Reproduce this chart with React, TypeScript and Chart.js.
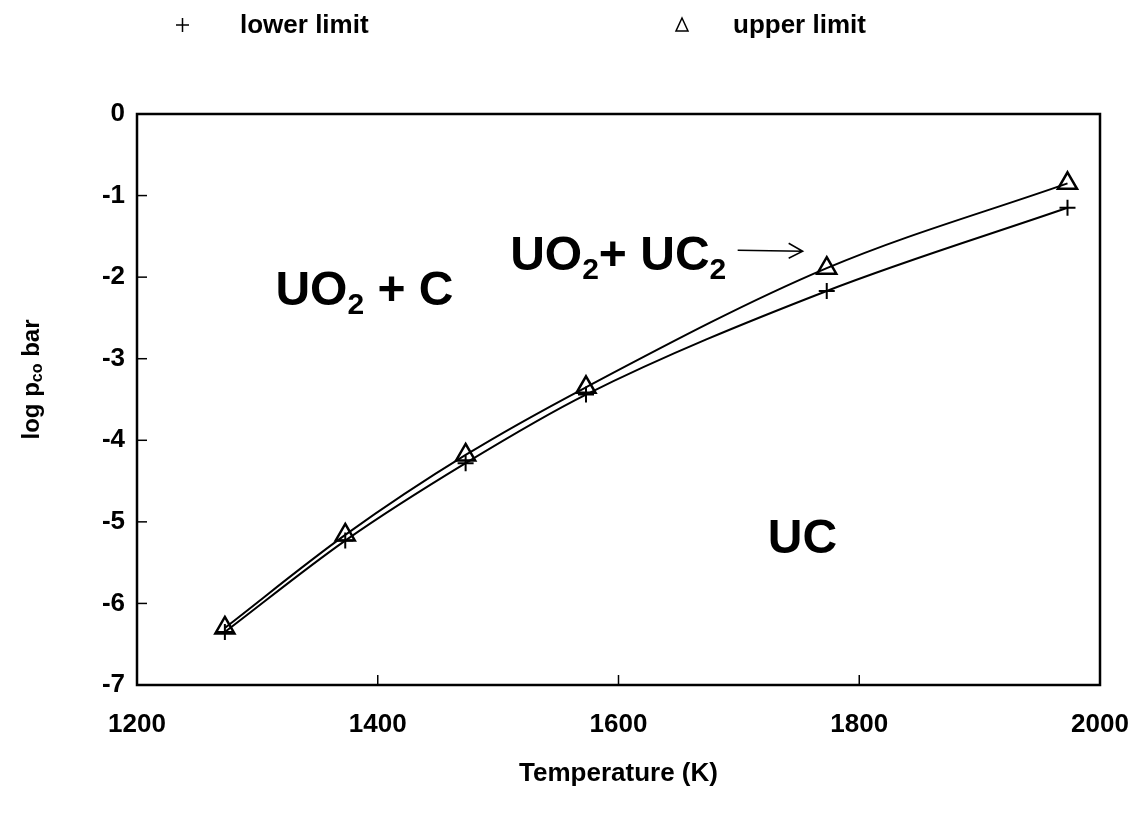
import React, { useEffect, useRef } from "react";
import { Chart, registerables } from "chart.js";

Chart.register(...registerables);

const temperatures = [1273, 1373, 1473, 1573, 1773, 1973];
const lowerLimit = [-6.35, -5.23, -4.28, -3.44, -2.17, -1.15];
const upperLimit = [-6.3, -5.16, -4.18, -3.35, -1.89, -0.85];
const xTicks = [1200, 1400, 1600, 1800, 2000];
const yTicks = [0, -1, -2, -3, -4, -5, -6, -7];

const FONT = "'Liberation Sans', Arial, Helvetica, sans-serif";

const overlayPlugin = {
  id: "overlay",
  afterDraw(chart: any) {
    const ctx = chart.ctx as CanvasRenderingContext2D;
    const { left, right, top, bottom } = chart.chartArea;
    const xs = chart.scales.x;
    const ys = chart.scales.y;
    ctx.save();
    ctx.strokeStyle = "#000";
    ctx.fillStyle = "#000";
    // frame
    ctx.lineWidth = 2.5;
    ctx.strokeRect(left, top, right - left, bottom - top);
    // inward ticks
    ctx.lineWidth = 1.5;
    yTicks.forEach((v) => {
      const y = ys.getPixelForValue(v);
      ctx.beginPath();
      ctx.moveTo(left, y);
      ctx.lineTo(left + 10, y);
      ctx.stroke();
    });
    xTicks.forEach((v) => {
      const x = xs.getPixelForValue(v);
      ctx.beginPath();
      ctx.moveTo(x, bottom);
      ctx.lineTo(x, bottom - 10);
      ctx.stroke();
    });

    // region labels with subscripts
    const drawRich = (parts: [string, boolean][], x: number, y: number, size: number) => {
      let cx = x;
      parts.forEach(([t, sub]) => {
        const s = sub ? Math.round(size * 0.62) : size;
        ctx.font = `bold ${s}px ${FONT}`;
        ctx.textAlign = "left";
        ctx.textBaseline = "alphabetic";
        ctx.fillText(t, cx, sub ? y + size * 0.2 : y);
        cx += ctx.measureText(t).width;
      });
    };
    drawRich([["UO", false], ["2", true], [" + C", false]], xs.getPixelForValue(1315), ys.getPixelForValue(-2.34), 48);
    drawRich([["UO", false], ["2", true], ["+ UC", false], ["2", true]], xs.getPixelForValue(1510), ys.getPixelForValue(-1.91), 48);
    drawRich([["UC", false]], xs.getPixelForValue(1724), ys.getPixelForValue(-5.38), 48);

    // arrow
    const ax0 = xs.getPixelForValue(1699);
    const ax1 = xs.getPixelForValue(1753);
    const ay = ys.getPixelForValue(-1.67);
    ctx.lineWidth = 1.5;
    ctx.beginPath();
    ctx.moveTo(ax0, ay);
    ctx.lineTo(ax1, ay + 1);
    ctx.moveTo(ax1 - 14, ay - 7);
    ctx.lineTo(ax1, ay + 1);
    ctx.lineTo(ax1 - 14, ay + 8);
    ctx.stroke();

    // legend
    ctx.lineWidth = 1.5;
    ctx.beginPath();
    ctx.moveTo(176, 25);
    ctx.lineTo(189, 25);
    ctx.moveTo(182.5, 18);
    ctx.lineTo(182.5, 32);
    ctx.stroke();
    ctx.beginPath();
    ctx.moveTo(682, 18);
    ctx.lineTo(688, 31);
    ctx.lineTo(676, 31);
    ctx.closePath();
    ctx.stroke();
    ctx.font = `bold 26px ${FONT}`;
    ctx.textAlign = "left";
    ctx.textBaseline = "middle";
    ctx.fillText("lower limit", 240, 26);
    ctx.fillText("upper limit", 733, 26);

    // x title
    ctx.textAlign = "center";
    ctx.fillText("Temperature (K)", (left + right) / 2, 774);

    // y title with subscript, rotated
    ctx.save();
    ctx.translate(32, (top + bottom) / 2 - 20);
    ctx.rotate(-Math.PI / 2);
    const p1 = "log p";
    const p2 = "co";
    const p3 = " bar";
    ctx.font = `bold 24px ${FONT}`;
    const w1 = ctx.measureText(p1).width;
    const w3 = ctx.measureText(p3).width;
    ctx.font = `bold 16px ${FONT}`;
    const w2 = ctx.measureText(p2).width;
    let cx = -(w1 + w2 + w3) / 2;
    ctx.textAlign = "left";
    ctx.textBaseline = "middle";
    ctx.font = `bold 24px ${FONT}`;
    ctx.fillText(p1, cx, 0);
    cx += w1;
    ctx.font = `bold 16px ${FONT}`;
    ctx.fillText(p2, cx, 6);
    cx += w2;
    ctx.font = `bold 24px ${FONT}`;
    ctx.fillText(p3, cx, 0);
    ctx.restore();

    ctx.restore();
  },
};

export default function App() {
  const ref = useRef<HTMLCanvasElement | null>(null);
  useEffect(() => {
    if (!ref.current) return;
    const chart = new Chart(ref.current, {
      type: "line",
      data: {
        datasets: [
          {
            label: "lower limit",
            data: temperatures.map((t, i) => ({ x: t, y: lowerLimit[i] })),
            borderColor: "#000",
            borderWidth: 2,
            pointStyle: "cross",
            pointRadius: 8,
            pointBorderWidth: 2,
            pointBorderColor: "#000",
            cubicInterpolationMode: "monotone",
            fill: false,
          },
          {
            label: "upper limit",
            data: temperatures.map((t, i) => ({ x: t, y: upperLimit[i] })),
            borderColor: "#000",
            borderWidth: 2,
            pointStyle: "triangle",
            pointRadius: 11,
            pointBorderWidth: 2.5,
            pointBorderColor: "#000",
            pointBackgroundColor: "rgba(255,255,255,0)",
            cubicInterpolationMode: "monotone",
            fill: false,
          },
        ],
      },
      options: {
        animation: false,
        responsive: false,
        layout: { padding: { top: 114, right: 34, left: 0, bottom: 0 } },
        plugins: { legend: { display: false }, tooltip: { enabled: false } },
        scales: {
          x: {
            type: "linear",
            min: 1200,
            max: 2000,
            afterBuildTicks: (s: any) => {
              s.ticks = xTicks.map((v) => ({ value: v }));
            },
            afterFit: (s: any) => {
              s.height = 131;
              s.paddingLeft = 0;
              s.paddingRight = 0;
            },
            grid: { display: false, drawTicks: false },
            border: { display: false },
            ticks: {
              padding: 24,
              color: "#000",
              font: { family: FONT, size: 26, weight: "bold" },
              maxRotation: 0,
              callback: (v: any) => String(v),
            },
          },
          y: {
            type: "linear",
            min: -7,
            max: 0,
            afterBuildTicks: (s: any) => {
              s.ticks = yTicks.map((v) => ({ value: v }));
            },
            afterFit: (s: any) => {
              s.width = 137;
              s.paddingTop = 0;
              s.paddingBottom = 0;
            },
            grid: { display: false, drawTicks: false },
            border: { display: false },
            ticks: {
              padding: 12,
              color: "#000",
              font: { family: FONT, size: 26, weight: "bold" },
              callback: (v: any) => String(v),
            },
          },
        },
      },
      plugins: [overlayPlugin],
    } as any);
    return () => chart.destroy();
  }, []);
  return (
    <div style={{ position: "fixed", left: 0, top: 0, width: 1134, height: 816, background: "#fff" }}>
      <canvas ref={ref} width={1134} height={816} style={{ display: "block" }} />
    </div>
  );
}
